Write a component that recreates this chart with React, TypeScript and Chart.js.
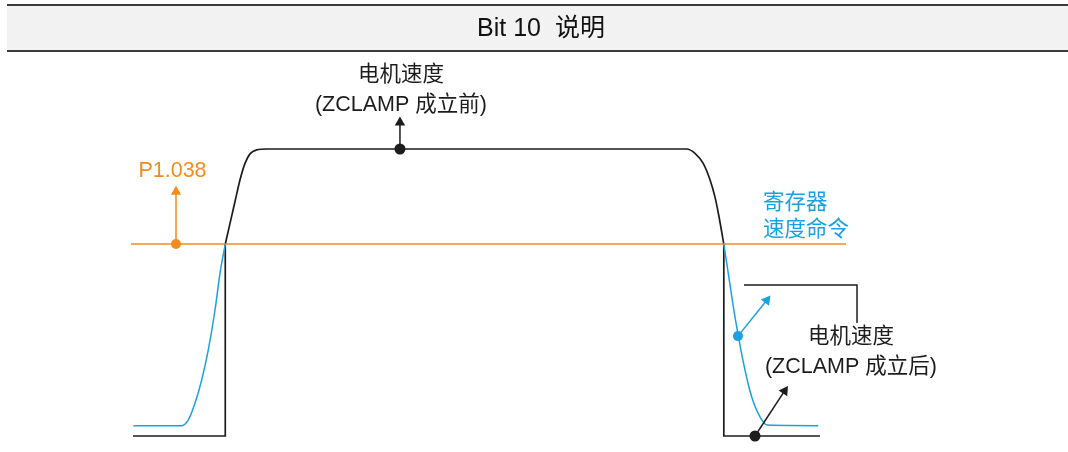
import React, { useEffect, useRef } from "react";
import { Chart, registerables } from "chart.js";

Chart.register(...registerables);

// ---- data (time in % of cycle, speed in % of max) ----
const speedBeforeRampLeft: [number, number][] = [[0, 0], [13.43, 0], [13.43, 66.8]];
const speedBeforeRampRight: [number, number][] = [[86.0, 66.8], [86.0, 0], [100, 0]];
const speedBeforeCurve: [number, number][] = [
  [13.43, 66.8], [14.12, 74.1], [14.85, 81.7], [15.57, 89.2], [16.3, 95.0], [17.03, 98.3],
  [18.0, 99.7], [19.46, 100], [38.86, 100], [80.6, 100], [81.8, 98.5], [83.0, 95.0],
  [84.0, 89.2], [84.7, 83.4], [85.3, 76.4], [86.0, 66.8],
];
const speedAfterRise: [number, number][] = [
  [0.05, 3.6], [7.09, 3.6], [8.05, 5.6], [9.02, 11.4], [10.0, 19.5], [10.96, 30.0],
  [11.94, 43.9], [12.66, 56.7], [13.43, 66.8],
];
const speedAfterFall: [number, number][] = [
  [86.0, 66.8], [86.65, 56.7], [87.38, 45.1], [88.11, 34.9], [89.08, 23.0], [90.05, 13.7],
  [91.27, 6.7], [92.33, 3.8], [99.75, 3.6],
];
const thresholdP1038: [number, number][] = [[-0.29, 66.9], [103.78, 66.9]];
const bracketLine: [number, number][] = [[88.94, 52.6], [105.39, 52.6], [105.39, 39.4]];

const arrowTop: [number, number][] = [[38.86, 100], [38.86, 109.2]];
const arrowOrange: [number, number][] = [[6.26, 66.9], [6.26, 85.1]];
const arrowBlue: [number, number][] = [[88.06, 34.8], [92.25, 47.3]];
const arrowBottom: [number, number][] = [[90.54, 0], [94.85, 15.7]];

const annotationTexts = ["电机速度", "(ZCLAMP 成立前)", "P1.038", "寄存器", "速度命令", "电机速度", "(ZCLAMP 成立后)"];
const annotationX = [39.0, 39.0, 5.75, 91.7, 91.7, 104.5, 104.5];
const annotationY = [125.8, 115.3, 92.2, 81.3, 71.8, 34.3, 23.9];
const annotationAlign = ["center", "center", "center", "left", "left", "center", "center"];

const headerTitle = "Bit 10  说明";

const BLACK = "#1c1c1c";
const ORANGE = "#f28c1e";
const BLUE = "#1ba1e2";
const FONT = '"Liberation Sans", Arial, "Noto Sans CJK SC", sans-serif';

const toPts = (a: [number, number][]) => a.map(([x, y]) => ({ x, y }));

const annotationColors = [BLACK, BLACK, ORANGE, BLUE, BLUE, BLACK, BLACK];

function arrowDs(pts: [number, number][], color: string, dotR: number, rot: number) {
  return {
    data: toPts(pts),
    borderColor: color,
    borderWidth: 1.5,
    backgroundColor: color,
    pointBackgroundColor: color,
    pointBorderColor: color,
    pointBorderWidth: 0,
    pointStyle: ["circle", "triangle"],
    pointRadius: [dotR, 6],
    pointRotation: [0, rot],
    tension: 0,
  };
}

function lineDs(pts: [number, number][], color: string, width: number, monotone: boolean) {
  return {
    data: toPts(pts),
    borderColor: color,
    borderWidth: width,
    pointRadius: 0,
    tension: 0,
    cubicInterpolationMode: monotone ? "monotone" : "default",
  };
}

const framePlugin = {
  id: "frame",
  beforeDraw(chart: any) {
    const ctx = chart.ctx;
    const w = chart.width;
    ctx.save();
    ctx.fillStyle = "#ffffff";
    ctx.fillRect(0, 0, w, chart.height);
    ctx.fillStyle = "#f2f2f2";
    ctx.fillRect(7, 5, w - 7, 46);
    ctx.fillStyle = "#3a3a3a";
    ctx.fillRect(7, 4, w - 7, 2);
    ctx.fillRect(7, 50, w - 7, 2);
    ctx.fillStyle = "#111";
    ctx.font = `25px ${FONT}`;
    ctx.textAlign = "center";
    ctx.textBaseline = "middle";
    ctx.fillText(headerTitle, 541, 29);
    ctx.restore();
  },
  afterDatasetsDraw(chart: any) {
    const ctx = chart.ctx;
    const xs = chart.scales.x;
    const ys = chart.scales.y;
    ctx.save();
    ctx.font = `21.5px ${FONT}`;
    ctx.textBaseline = "middle";
    annotationTexts.forEach((t, i) => {
      ctx.fillStyle = annotationColors[i];
      ctx.textAlign = annotationAlign[i];
      ctx.fillText(t, xs.getPixelForValue(annotationX[i]), ys.getPixelForValue(annotationY[i]));
    });
    ctx.restore();
  },
};

export default function App() {
  const ref = useRef<HTMLCanvasElement | null>(null);
  useEffect(() => {
    if (!ref.current) return;
    const chart = new Chart(ref.current, {
      type: "line",
      data: {
        datasets: [
          arrowDs(arrowTop, BLACK, 5.5, 0),
          arrowDs(arrowOrange, ORANGE, 5, 0),
          arrowDs(arrowBlue, BLUE, 5, 38),
          arrowDs(arrowBottom, BLACK, 5.5, 34),
          lineDs(bracketLine, BLACK, 1.5, false),
          lineDs(speedAfterRise, BLUE, 1.5, true),
          lineDs(speedAfterFall, BLUE, 1.5, true),
          lineDs(thresholdP1038, ORANGE, 1.5, false),
          lineDs(speedBeforeRampLeft, BLACK, 1.7, false),
          lineDs(speedBeforeRampRight, BLACK, 1.7, false),
          lineDs(speedBeforeCurve, BLACK, 1.7, true),
        ] as any,
      },
      options: {
        animation: false,
        responsive: false,
        devicePixelRatio: 1,
        events: [],
        layout: { padding: 0, autoPadding: false },
        plugins: { legend: { display: false }, tooltip: { enabled: false }, title: { display: false } },
        scales: {
          x: { type: "linear", min: -19.36, max: 136.1, display: false },
          y: { type: "linear", min: -5.575, max: 151.916, display: false },
        },
      } as any,
      plugins: [framePlugin],
    });
    return () => chart.destroy();
  }, []);
  return (
    <div style={{ position: "fixed", left: 0, top: 0, width: 1068, height: 452, background: "#fff" }}>
      <canvas ref={ref} width={1068} height={452} style={{ display: "block", width: 1068, height: 452 }} />
    </div>
  );
}
